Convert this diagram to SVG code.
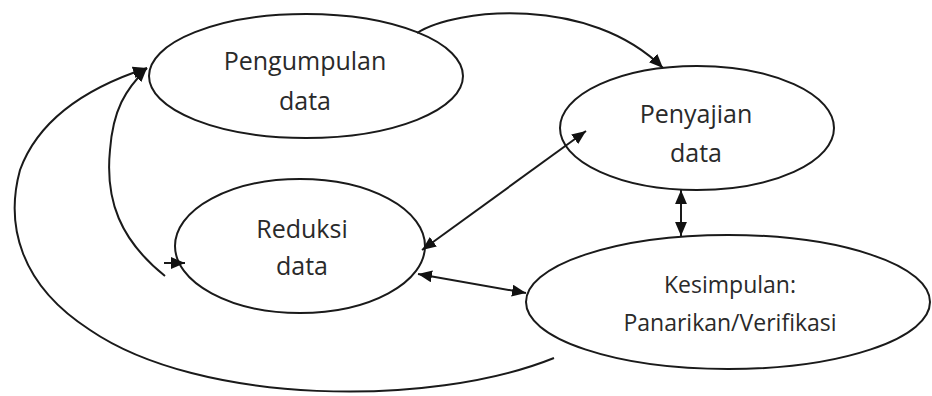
<svg xmlns="http://www.w3.org/2000/svg" width="932" height="396" viewBox="0 0 932 396">
<style>
.node ellipse{fill:none;stroke:#1a1a1a;stroke-width:2}
.node text{font-family:"Open Sans","Noto Sans",sans-serif;font-size:25px;fill:#2a2a2a;text-anchor:middle}
.node text.sm{font-size:23px}
.conn path{fill:none;stroke:#1a1a1a;stroke-width:2}
</style>
<defs>
<marker id="ah" markerUnits="userSpaceOnUse" markerWidth="14" markerHeight="12" refX="13" refY="5.5" orient="auto-start-reverse" viewBox="0 0 13 11">
<path d="M0,0 L13,5.5 L0,11 z" fill="#111"/>
</marker>
</defs>
<rect width="932" height="396" fill="#fff"/>
<g id="pengumpulan" class="node">
<ellipse cx="306" cy="76" rx="157" ry="62"/>
<text x="305" y="70">Pengumpulan</text>
<text x="305" y="110">data</text>
</g>
<g id="penyajian" class="node">
<ellipse cx="697" cy="128" rx="137" ry="62"/>
<text x="696" y="123">Penyajian</text>
<text x="696" y="162">data</text>
</g>
<g id="reduksi" class="node">
<ellipse cx="300" cy="246" rx="125" ry="67"/>
<text x="302" y="238">Reduksi</text>
<text x="302" y="275">data</text>
</g>
<g id="kesimpulan" class="node">
<ellipse cx="728" cy="302" rx="202" ry="67"/>
<text class="sm" x="730" y="293">Kesimpulan:</text>
<text class="sm" x="730" y="331">Panarikan/Verifikasi</text>
</g>
<g id="connectors" class="conn">
<path d="M417,33 C455,8 590,-5 663,68" marker-end="url(#ah)"/>
<path d="M554,358 C430,408 200,405 90,330 C20,285 5,225 20,170 C40,115 95,85 147,68" marker-end="url(#ah)"/>
<path d="M165,276 C120,240 105,200 110,150 C113,110 125,90 147,68" marker-end="url(#ah)"/>
<path d="M164,263 L185,263" marker-end="url(#ah)"/>
<path d="M422,250 L586,131" marker-start="url(#ah)" marker-end="url(#ah)"/>
<path d="M418,274 L526,293" marker-start="url(#ah)" marker-end="url(#ah)"/>
<path d="M681,190 L681,236" marker-start="url(#ah)" marker-end="url(#ah)"/>
</g>
</svg>
